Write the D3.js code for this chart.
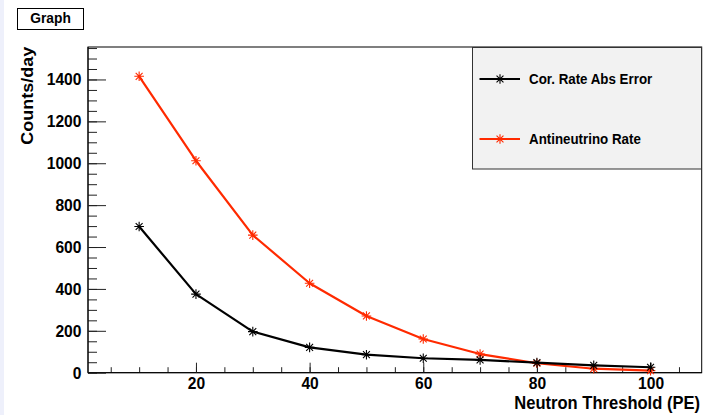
<!DOCTYPE html>
<html>
<head>
<meta charset="utf-8">
<script src="https://cdn.jsdelivr.net/npm/d3@7"></script>
<style>
  html, body { margin: 0; padding: 0; background: #fff; }
  svg { display: block; }
  text { font-family: "Liberation Sans", Arial, Helvetica, sans-serif; font-weight: bold; fill: #000; }
</style>
</head>
<body>
<svg id="chart" width="710" height="415"></svg>
<script>
// ---- data ----
const thresholds = [10, 20, 30, 40, 50, 60, 70, 80, 90, 100];
const corRateAbsError = [698, 375, 196, 121, 86, 69, 61, 48, 35, 26];
const antineutrinoRate = [1415, 1012, 657, 427, 271, 161, 89, 45, 19, 10];
const seriesNames = ["Cor. Rate Abs Error", "Antineutrino Rate"];
const xTickValues = [20, 40, 60, 80, 100];
const yTickValues = [0, 200, 400, 600, 800, 1000, 1200, 1400];
const titleText = "Graph";
const xTitle = "Neutron Threshold (PE)";
const yTitle = "Counts/day";

const W = 710, H = 415;
const plot = { left: 88, right: 701.7, top: 47, bottom: 372.7 };
const SX = 0.92; // horizontal squeeze of glyphs in the reference

const svg = d3.select("#chart");

// left lavender strip
svg.append("rect").attr("x", 0).attr("y", 0).attr("width", 4).attr("height", H).attr("fill", "#eef0fb");

const x = d3.scaleLinear().domain([1, 109]).range([plot.left, plot.right]);
const y = d3.scaleLinear().domain([0, 1555]).range([plot.bottom, plot.top]);

// frame
svg.append("rect")
  .attr("x", plot.left).attr("y", plot.top)
  .attr("width", plot.right - plot.left).attr("height", plot.bottom - plot.top)
  .attr("fill", "none").attr("stroke", "#000").attr("stroke-width", 1);

// minor ticks
const xMinor = d3.range(5, 109, 5);
const yMinor = d3.range(0, 1556, 50);
svg.append("g").attr("transform", `translate(0,${plot.bottom})`)
  .call(d3.axisBottom(x).tickValues(xMinor).tickSize(-5.5).tickFormat(""))
  .call(g => g.select(".domain").remove())
  .call(g => g.selectAll("line").attr("stroke", "#222"));
svg.append("g").attr("transform", `translate(${plot.left},0)`)
  .call(d3.axisLeft(y).tickValues(yMinor).tickSize(-9).tickFormat(""))
  .call(g => g.select(".domain").remove())
  .call(g => g.selectAll("line").attr("stroke", "#222"));

// major axes
const xAxis = svg.append("g").attr("transform", `translate(0,${plot.bottom})`)
  .call(d3.axisBottom(x).tickValues(xTickValues).tickSize(-10).tickPadding(4).tickFormat(d3.format("d")));
xAxis.select(".domain").attr("stroke", "#000").attr("d", `M${plot.left},0H${plot.right}`);
xAxis.selectAll("line").attr("stroke", "#222");
xAxis.selectAll("text").attr("font-size", 17).attr("fill", "#000")
  .attr("transform", `scale(${SX},1)`).attr("x", 0);

const yAxis = svg.append("g").attr("transform", `translate(${plot.left},0)`)
  .call(d3.axisLeft(y).tickValues(yTickValues).tickSize(-18).tickPadding(6.5).tickFormat(d3.format("d")));
yAxis.select(".domain").attr("stroke", "#000").attr("d", `M0,${plot.bottom}V${plot.top}`);
yAxis.selectAll("line").attr("stroke", "#222");
yAxis.selectAll("text").attr("font-size", 17).attr("fill", "#000")
  .attr("transform", `scale(${SX},1)`).attr("x", -6.5 / SX);

svg.selectAll(".tick text").attr("font-family", "Liberation Sans, Arial, sans-serif").attr("font-weight", "bold");

// axis titles
svg.append("text")
  .attr("transform", `translate(700,409) scale(${SX},1)`)
  .attr("text-anchor", "end").attr("font-size", 18).text(xTitle);
svg.append("text")
  .attr("transform", `translate(32.5,46.7) rotate(-90) scale(1,${SX})`)
  .attr("text-anchor", "end").attr("font-size", 18).text(yTitle);

// title box
svg.append("rect").attr("x", 17.5).attr("y", 8.5).attr("width", 66).attr("height", 21)
  .attr("fill", "#fff").attr("stroke", "#000").attr("stroke-width", 1);
svg.append("text")
  .attr("transform", `translate(50.5,22.8) scale(${SX},1)`)
  .attr("text-anchor", "middle").attr("font-size", 15).text(titleText);

// series
const colors = ["#000000", "#ff2a00"];
const seriesData = [corRateAbsError, antineutrinoRate];
const line = d3.line().x(d => x(d[0])).y(d => y(d[1])).curve(d3.curveLinear);

function starPath(s) {
  return `M${-s},0H${s}M0,${-s}V${s}M${-s*0.72},${-s*0.72}L${s*0.72},${s*0.72}M${-s*0.72},${s*0.72}L${s*0.72},${-s*0.72}`;
}

[1, 0].forEach(i => {
  const pts = thresholds.map((t, j) => [t, seriesData[i][j]]);
  svg.append("path").datum(pts)
    .attr("d", line).attr("fill", "none")
    .attr("stroke", colors[i]).attr("stroke-width", 2.2).attr("stroke-linejoin", "round");
  svg.append("g").selectAll("path").data(pts).join("path")
    .attr("transform", d => `translate(${x(d[0])},${y(d[1])})`)
    .attr("d", starPath(4.8)).attr("fill", "none")
    .attr("stroke", colors[i]).attr("stroke-width", 1.1);
});

// legend
const leg = svg.append("g");
leg.append("rect").attr("x", 472.5).attr("y", 47.5).attr("width", 229).attr("height", 121.5)
  .attr("fill", "#f2f2f2").attr("stroke", "#333").attr("stroke-width", 1);
const legY = [79, 139];
seriesNames.forEach((name, i) => {
  leg.append("line").attr("x1", 479.5).attr("x2", 520).attr("y1", legY[i]).attr("y2", legY[i])
    .attr("stroke", colors[i]).attr("stroke-width", 2.2);
  leg.append("path").attr("transform", `translate(500,${legY[i]})`).attr("d", starPath(4.8))
    .attr("fill", "none").attr("stroke", colors[i]).attr("stroke-width", 1.1);
  leg.append("text").attr("transform", `translate(529,${legY[i] + 5}) scale(${SX},1)`)
    .attr("font-size", 14.5).text(name);
});
</script>
</body>
</html>
